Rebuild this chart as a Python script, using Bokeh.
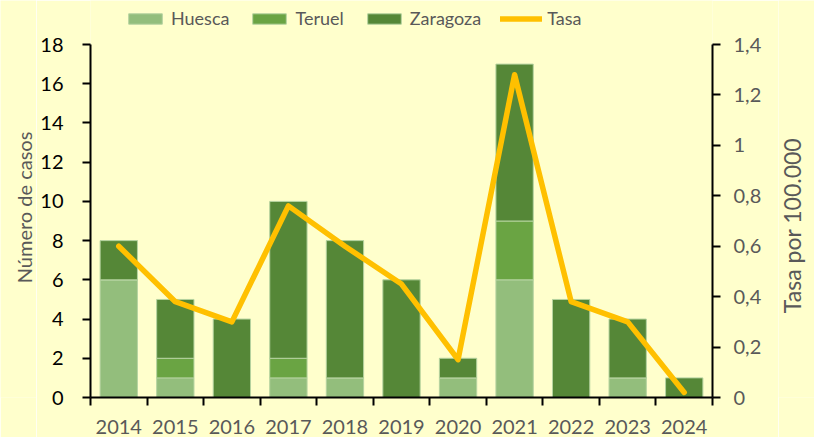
import math
from bokeh.plotting import figure
from bokeh.layouts import row
from bokeh.models import (Range1d, LinearAxis, FixedTicker, Legend, LegendItem,
                          CustomJSTickFormatter, ColumnDataSource)
from bokeh.core.properties import value
from bokeh.embed import file_html
from bokeh.resources import INLINE

years = [2014, 2015, 2016, 2017, 2018, 2019, 2020, 2021, 2022, 2023, 2024]
huesca = [6, 1, 0, 1, 1, 0, 1, 6, 0, 1, 0]
teruel = [0, 1, 0, 1, 0, 0, 0, 3, 0, 0, 0]
zaragoza = [2, 3, 4, 8, 7, 6, 1, 8, 5, 3, 1]
tasa = [0.60, 0.38, 0.30, 0.76, 0.60, 0.45, 0.15, 1.28, 0.38, 0.30, 0.02]
left_ticks = [0, 2, 4, 6, 8, 10, 12, 14, 16, 18]
right_ticks = [0, 0.2, 0.4, 0.6, 0.8, 1.0, 1.2, 1.4]
series = ["Huesca", "Teruel", "Zaragoza"]
colors = ["#93BE7C", "#6AA443", "#558737"]
LINE_COLOR = "#FFC000"
LEFT_LABEL = "Número de casos"
RIGHT_LABEL = "Tasa por 100.000"
LEFT_MAX = 18
RIGHT_MAX = 1.4

FONT = "Lato"
BG = "#FFFFCC"
GRAY = "#595959"

PAGE_H = 437
FRAME_H = 397          # frame reaches the top of the page (legend lives inside)
AXIS_H = 353           # visible axis length
ext = FRAME_H / AXIS_H
SIDE_L = 36
SIDE_R = 36

src = ColumnDataSource(dict(year=years, Huesca=huesca, Teruel=teruel,
                            Zaragoza=zaragoza, tasa=tasa))

# ---------------- main chart ----------------
p = figure(frame_width=622, frame_height=FRAME_H, output_backend="svg",
           toolbar_location=None, x_range=Range1d(2013.5, 2024.5),
           y_range=Range1d(0, LEFT_MAX * ext), min_border_left=90 - SIDE_L,
           min_border_right=102 - SIDE_R, min_border_top=0,
           min_border_bottom=PAGE_H - FRAME_H)
p.background_fill_color = BG
p.border_fill_color = BG
p.outline_line_color = None
p.xgrid.visible = False
p.ygrid.visible = False

p.extra_y_ranges = {"tasa": Range1d(0, RIGHT_MAX * ext)}

bars = p.vbar_stack(series, x="year", width=0.66, source=src, color=colors,
                    line_color="#B5D3A0", line_width=1)
line = p.line("year", "tasa", source=src, y_range_name="tasa",
              line_color=LINE_COLOR, line_width=5.5, line_join="round",
              line_cap="round")

# x axis
xa = p.xaxis[0]
xa.ticker = FixedTicker(ticks=years, minor_ticks=[y - 0.5 for y in years] + [2024.5])
xa.major_tick_out = 0
xa.major_tick_in = 0
xa.minor_tick_out = 8
xa.minor_tick_in = 0
xa.minor_tick_line_color = "black"
xa.minor_tick_line_width = 2
xa.axis_line_width = 2
xa.axis_line_color = "black"
xa.major_label_text_font = FONT
xa.major_label_text_font_size = "20px"
xa.major_label_text_color = GRAY
xa.major_label_standoff = 14

# left axis
ya = p.yaxis[0]
ya.ticker = FixedTicker(ticks=left_ticks)
ya.bounds = (0, LEFT_MAX)
ya.minor_tick_line_color = None
ya.major_tick_out = 8
ya.major_tick_in = 0
ya.major_tick_line_width = 2
ya.axis_line_width = 2
ya.axis_line_color = "black"
ya.major_label_text_font = FONT
ya.major_label_text_font_size = "20px"
ya.major_label_text_color = "black"
ya.major_label_standoff = 19

# right axis
ra = LinearAxis(y_range_name="tasa", ticker=FixedTicker(ticks=right_ticks),
                bounds=(0, RIGHT_MAX),
                formatter=CustomJSTickFormatter(
                    code="return (Math.round(tick*10)/10).toString().replace('.', ',');"))
ra.minor_tick_line_color = None
ra.major_tick_out = 8
ra.major_tick_in = 0
ra.major_tick_line_width = 2
ra.axis_line_width = 2
ra.axis_line_color = "black"
ra.major_label_text_font = FONT
ra.major_label_text_font_size = "20px"
ra.major_label_text_color = GRAY
ra.major_label_standoff = 13
p.add_layout(ra, "right")

legend = Legend(items=[LegendItem(label="Huesca", renderers=[bars[0]]),
                       LegendItem(label="Teruel", renderers=[bars[1]]),
                       LegendItem(label="Zaragoza", renderers=[bars[2]]),
                       LegendItem(label="Tasa", renderers=[line])],
                orientation="horizontal", location=(34, 368))
legend.background_fill_alpha = 0
legend.border_line_color = None
legend.padding = 0
legend.margin = 0
legend.spacing = 19
legend.glyph_width = 42
legend.glyph_height = 13
legend.label_standoff = 5
legend.label_text_font = FONT
legend.label_text_font_size = "18px"
legend.label_text_color = GRAY
p.add_layout(legend, "center")


# ---------------- axis-title strips ----------------
def title_strip(width, text, cx, cy, size):
    f = figure(width=width, height=PAGE_H, output_backend="svg",
               toolbar_location=None, x_axis_type=None, y_axis_type=None,
               x_range=Range1d(0, width), y_range=Range1d(FRAME_H, 0),
               min_border_left=0, min_border_right=0, min_border_top=0,
               min_border_bottom=PAGE_H - FRAME_H)
    f.background_fill_color = BG
    f.border_fill_color = BG
    f.outline_line_color = None
    f.xgrid.visible = False
    f.ygrid.visible = False
    f.text(x=[cx], y=[cy], text=[text], angle=math.pi / 2,
           text_align="center", text_baseline="middle",
           text_font=value(FONT), text_font_size=size, text_color=GRAY)
    return f


left_strip = title_strip(SIDE_L, LEFT_LABEL, 23, 207, "20px")
right_strip = title_strip(SIDE_R, RIGHT_LABEL, 791 - (814 - SIDE_R), 225, "23px")

layout = row(left_strip, p, right_strip, spacing=0)
open("out.html", "w").write(file_html(layout, INLINE))
